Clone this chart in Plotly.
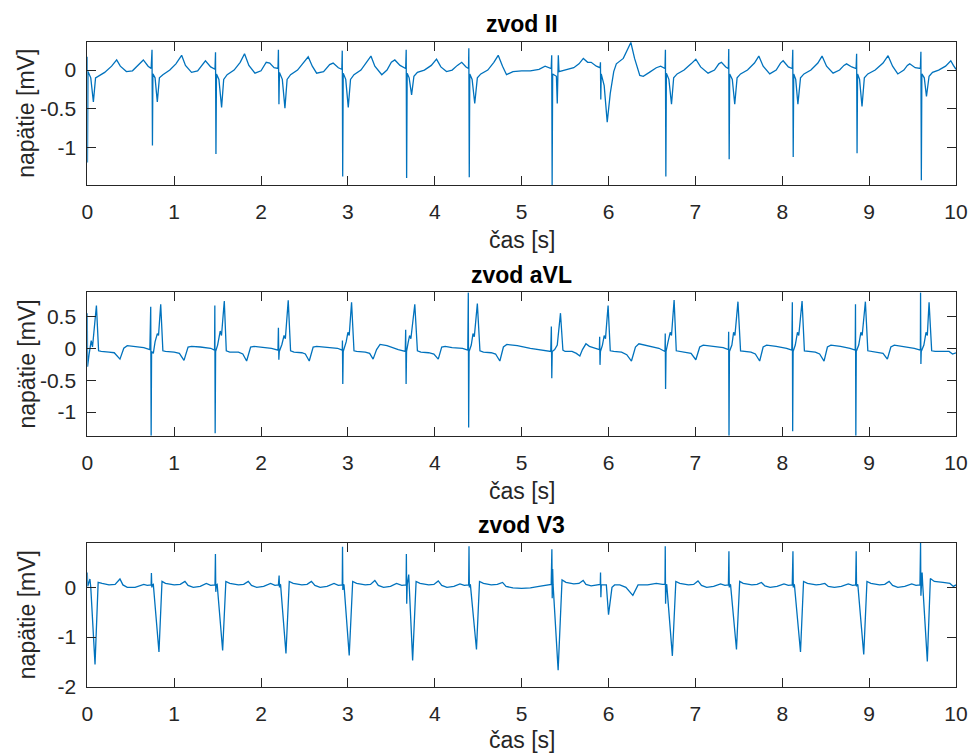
import plotly.graph_objects as go

# ---------------- data ----------------
# lead II
time_ii = [
    0.0, 0.002, 0.008, 0.04, 0.07, 0.095, 0.13, 0.2, 0.28, 0.338, 0.38, 0.45, 0.52, 0.6, 0.645, 0.7, 0.735,
    0.745, 0.75, 0.755, 0.78, 0.806, 0.83, 0.87, 0.95, 1.02, 1.086, 1.13, 1.2, 1.27, 1.33, 1.36, 1.42, 1.47,
    1.476, 1.481, 1.487, 1.515, 1.546, 1.57, 1.61, 1.69, 1.76, 1.81, 1.86, 1.93, 2.0, 2.06, 2.1, 2.15, 2.195,
    2.2, 2.206, 2.212, 2.245, 2.275, 2.3, 2.34, 2.42, 2.49, 2.543, 2.59, 2.64, 2.72, 2.79, 2.83, 2.89, 2.93,
    2.935, 2.94, 2.946, 2.975, 3.004, 3.03, 3.07, 3.15, 3.22, 3.265, 3.31, 3.39, 3.45, 3.5, 3.54, 3.6, 3.665,
    3.671, 3.676, 3.682, 3.705, 3.733, 3.76, 3.8, 3.88, 3.96, 4.02, 4.07, 4.135, 4.2, 4.26, 4.31, 4.36, 4.388,
    4.392, 4.397, 4.403, 4.43, 4.46, 4.49, 4.53, 4.61, 4.68, 4.73, 4.78, 4.826, 4.9, 5.0, 5.1, 5.2, 5.27, 5.34,
    5.346, 5.351, 5.357, 5.4, 5.41, 5.416, 5.422, 5.43, 5.5, 5.6, 5.66, 5.71, 5.76, 5.8, 5.86, 5.903,
    5.907, 5.911, 5.916, 5.95, 5.985, 6.02, 6.06, 6.09, 6.17, 6.257, 6.3, 6.36, 6.4, 6.47, 6.55, 6.6, 6.65,
    6.655, 6.66, 6.666, 6.695, 6.725, 6.75, 6.79, 6.87, 6.95, 7.005, 7.06, 7.146, 7.22, 7.27, 7.3, 7.35, 7.38,
    7.384, 7.389, 7.395, 7.425, 7.453, 7.48, 7.52, 7.6, 7.68, 7.73, 7.78, 7.856, 7.93, 7.98, 8.01, 8.07, 8.115,
    8.121, 8.126, 8.132, 8.155, 8.18, 8.21, 8.25, 8.33, 8.41, 8.458, 8.51, 8.585, 8.66, 8.71, 8.74, 8.8, 8.85,
    8.856, 8.861, 8.867, 8.89, 8.918, 8.945, 8.985, 9.07, 9.16, 9.218, 9.27, 9.33, 9.4, 9.44, 9.467, 9.53, 9.59,
    9.596, 9.601, 9.607, 9.635, 9.66, 9.69, 9.73, 9.8, 9.88, 9.94, 9.97, 10.0,
]
volt_ii = [
    0.17, -1.19, -0.02, -0.1, -0.41, -0.1, -0.08, -0.03, 0.05, 0.13, 0.05, -0.02, -0.01, 0.08, 0.13, 0.05, 0.02,
    0.26, -0.97, -0.05, -0.1, -0.41, -0.1, -0.06, 0.0, 0.08, 0.19, 0.06, -0.03, -0.01, 0.08, 0.12, 0.04, 0.01,
    0.23, -1.08, -0.05, -0.12, -0.48, -0.12, -0.06, 0.0, 0.1, 0.21, 0.06, -0.04, -0.01, 0.1, 0.09, 0.03, 0.02,
    0.26, -0.44, -0.03, -0.12, -0.49, -0.12, -0.06, 0.0, 0.09, 0.17, 0.05, -0.04, -0.02, 0.07, 0.09, 0.03, 0.01,
    0.25, -1.37, -0.04, -0.12, -0.48, -0.12, -0.06, 0.0, 0.1, 0.18, 0.05, -0.06, 0.0, 0.1, 0.13, 0.06, 0.02,
    0.26, -1.39, -0.04, -0.1, -0.32, -0.08, -0.03, 0.0, 0.06, 0.14, 0.04, -0.02, 0.0, 0.06, 0.1, 0.04, 0.02,
    0.28, -1.38, -0.05, -0.12, -0.43, -0.1, -0.05, 0.0, 0.1, 0.19, 0.05, -0.06, -0.02, -0.01, -0.01, 0.01, 0.05, 0.02,
    0.19, -1.48, -0.05, -0.08, -0.43, -0.05, 0.19, -0.02, 0.0, 0.03, 0.08, 0.15, 0.1, 0.1, 0.05, 0.03,
    0.1, -0.38, -0.05, -0.2, -0.67, -0.3, -0.02, 0.08, 0.15, 0.355, 0.15, -0.07, -0.08, -0.03, 0.03, 0.05, 0.02,
    0.26, -1.37, -0.04, -0.12, -0.44, -0.1, -0.05, 0.0, 0.08, 0.14, 0.04, -0.04, 0.0, 0.08, 0.1, 0.04, 0.02,
    0.27, -1.15, -0.05, -0.12, -0.44, -0.1, -0.05, 0.0, 0.09, 0.18, 0.05, -0.05, 0.0, 0.09, 0.12, 0.04, 0.02,
    0.26, -1.12, -0.05, -0.12, -0.44, -0.1, -0.05, 0.0, 0.09, 0.18, 0.05, -0.04, 0.0, 0.06, 0.08, 0.04, 0.02,
    0.21, -1.07, -0.05, -0.12, -0.47, -0.1, -0.05, 0.0, 0.09, 0.185, 0.05, -0.05, 0.0, 0.06, 0.08, 0.03, 0.02,
    0.235, -1.42, -0.05, -0.1, -0.34, -0.08, -0.03, 0.0, 0.05, 0.12, 0.06, 0.01,
]

# lead aVL
time_avl = [
    0.0, 0.003, 0.02, 0.045, 0.06, 0.105, 0.13, 0.16, 0.25, 0.31, 0.376, 0.42, 0.46, 0.55, 0.65, 0.72,
    0.73, 0.735, 0.74, 0.76, 0.78, 0.806, 0.82, 0.845, 0.87, 0.9, 1.0, 1.06, 1.113, 1.16, 1.2, 1.3, 1.42, 1.465,
    1.468, 1.472, 1.477, 1.5, 1.53, 1.545, 1.577, 1.6, 1.64, 1.74, 1.79, 1.834, 1.88, 1.92, 2.0, 2.12, 2.195,
    2.2, 2.205, 2.21, 2.24, 2.265, 2.28, 2.313, 2.34, 2.38, 2.47, 2.51, 2.555, 2.6, 2.64, 2.75, 2.88, 2.935,
    2.937, 2.941, 2.946, 2.98, 3.0, 3.015, 3.042, 3.07, 3.1, 3.2, 3.25, 3.29, 3.33, 3.37, 3.45, 3.58, 3.66,
    3.665, 3.67, 3.675, 3.695, 3.71, 3.725, 3.77, 3.8, 3.84, 3.93, 3.99, 4.04, 4.08, 4.12, 4.2, 4.32, 4.38,
    4.386, 4.39, 4.395, 4.42, 4.44, 4.455, 4.49, 4.52, 4.56, 4.65, 4.7, 4.749, 4.79, 4.83, 4.95, 5.1, 5.25, 5.335,
    5.342, 5.347, 5.352, 5.38, 5.41, 5.447, 5.475, 5.5, 5.58, 5.63, 5.67, 5.7, 5.74, 5.78, 5.85, 5.895,
    5.898, 5.902, 5.907, 5.93, 5.95, 5.965, 5.995, 6.02, 6.06, 6.15, 6.21, 6.264, 6.31, 6.35, 6.45, 6.58, 6.65,
    6.653, 6.657, 6.662, 6.685, 6.71, 6.725, 6.755, 6.78, 6.82, 6.9, 6.95, 7.005, 7.05, 7.09, 7.2, 7.32, 7.38,
    7.383, 7.387, 7.392, 7.42, 7.44, 7.455, 7.49, 7.52, 7.56, 7.64, 7.69, 7.74, 7.78, 7.82, 7.93, 8.05, 8.11,
    8.116, 8.12, 8.125, 8.15, 8.175, 8.19, 8.228, 8.255, 8.3, 8.38, 8.43, 8.481, 8.52, 8.56, 8.67, 8.78, 8.84,
    8.843, 8.847, 8.852, 8.88, 8.905, 8.92, 8.957, 8.985, 9.03, 9.11, 9.16, 9.21, 9.25, 9.29, 9.4, 9.52, 9.59,
    9.592, 9.596, 9.6, 9.63, 9.655, 9.67, 9.69, 9.72, 9.76, 9.85, 9.92, 9.96, 10.0,
]
volt_avl = [
    0.55, -0.29, -0.1, 0.12, 0.02, 0.67, -0.04, -0.05, -0.06, -0.07, -0.17, 0.0, 0.04, 0.03, 0.01, -0.02,
    0.65, -1.37, -0.05, -0.08, 0.1, 0.23, 0.2, 0.69, -0.04, -0.05, -0.06, -0.08, -0.19, 0.02, 0.03, 0.02, 0.0, -0.03,
    0.67, -1.33, -0.05, 0.05, 0.27, 0.2, 0.74, -0.04, -0.06, -0.06, -0.09, -0.2, 0.02, 0.03, 0.02, 0.0, -0.03,
    0.32, -0.18, -0.05, 0.06, 0.2, 0.15, 0.75, -0.04, -0.06, -0.07, -0.09, -0.2, 0.02, 0.03, 0.02, 0.0, -0.03,
    0.12, -0.56, -0.05, 0.1, 0.25, 0.2, 0.72, -0.04, -0.05, -0.06, -0.08, -0.17, -0.02, 0.06, 0.04, -0.02, -0.05,
    0.29, -0.56, -0.05, 0.1, 0.2, 0.15, 0.69, -0.04, -0.06, -0.07, -0.09, -0.17, 0.02, 0.03, 0.01, 0.0, -0.03,
    0.875, -1.24, -0.05, 0.05, 0.23, 0.18, 0.7, -0.04, -0.06, -0.07, -0.09, -0.2, 0.02, 0.06, 0.04, 0.0, -0.03, -0.05,
    0.34, -0.47, -0.05, -0.02, 0.05, 0.55, -0.03, -0.05, -0.05, -0.08, -0.12, -0.02, 0.07, 0.03, 0.0, -0.02,
    0.18, -0.26, -0.05, 0.05, 0.2, 0.15, 0.67, -0.04, -0.05, -0.06, -0.1, -0.2, 0.02, 0.07, 0.04, 0.0, -0.05,
    0.23, -0.64, -0.05, 0.1, 0.25, 0.2, 0.755, -0.04, -0.05, -0.06, -0.08, -0.18, 0.02, 0.05, 0.03, 0.01, -0.02,
    0.26, -1.37, -0.05, 0.05, 0.25, 0.2, 0.73, -0.04, -0.05, -0.06, -0.09, -0.2, 0.02, 0.05, 0.03, 0.0, -0.03,
    0.72, -1.3, -0.05, 0.05, 0.25, 0.2, 0.74, -0.04, -0.05, -0.06, -0.09, -0.2, 0.02, 0.05, 0.03, 0.0, -0.03,
    0.69, -1.37, -0.05, 0.05, 0.25, 0.2, 0.73, -0.04, -0.05, -0.06, -0.08, -0.17, 0.02, 0.05, 0.03, 0.0, -0.03,
    0.875, -0.245, -0.05, 0.05, 0.25, 0.2, 0.72, -0.04, -0.05, -0.05, -0.05, -0.09, -0.07,
]

# lead V3
time_v3 = [
    0.0, 0.005, 0.03, 0.04, 0.089, 0.125, 0.17, 0.25, 0.32, 0.376, 0.41, 0.46, 0.55, 0.61, 0.65, 0.69, 0.735,
    0.738, 0.743, 0.75, 0.76, 0.825, 0.86, 0.9, 1.0, 1.07, 1.124, 1.16, 1.22, 1.3, 1.37, 1.42, 1.47,
    1.475, 1.479, 1.485, 1.495, 1.558, 1.595, 1.64, 1.74, 1.8, 1.853, 1.89, 1.95, 2.03, 2.11, 2.16, 2.2,
    2.208, 2.212, 2.218, 2.225, 2.287, 2.325, 2.37, 2.47, 2.53, 2.58, 2.62, 2.68, 2.76, 2.84, 2.89, 2.935,
    2.938, 2.942, 2.948, 2.955, 3.015, 3.055, 3.1, 3.2, 3.26, 3.31, 3.35, 3.41, 3.49, 3.56, 3.62, 3.67,
    3.673, 3.677, 3.683, 3.7, 3.705, 3.745, 3.785, 3.83, 3.93, 3.99, 4.04, 4.08, 4.14, 4.22, 4.29, 4.34, 4.39,
    4.394, 4.398, 4.404, 4.41, 4.48, 4.515, 4.56, 4.65, 4.72, 4.78, 4.82, 4.9, 5.0, 5.1, 5.2, 5.28, 5.34,
    5.348, 5.352, 5.357, 5.362, 5.42, 5.465, 5.51, 5.6, 5.66, 5.708, 5.74, 5.8, 5.87, 5.905,
    5.908, 5.912, 5.917, 5.975, 6.0, 6.04, 6.07, 6.13, 6.2, 6.28, 6.34, 6.45, 6.55, 6.62, 6.65,
    6.653, 6.657, 6.663, 6.67, 6.735, 6.775, 6.82, 6.92, 6.98, 7.03, 7.07, 7.13, 7.21, 7.29, 7.34, 7.38,
    7.386, 7.39, 7.396, 7.405, 7.473, 7.51, 7.55, 7.65, 7.71, 7.76, 7.8, 7.86, 7.94, 8.02, 8.07, 8.115,
    8.123, 8.127, 8.133, 8.14, 8.21, 8.245, 8.29, 8.39, 8.44, 8.49, 8.53, 8.6, 8.68, 8.76, 8.81, 8.845,
    8.851, 8.855, 8.861, 8.87, 8.938, 8.975, 9.02, 9.12, 9.18, 9.23, 9.27, 9.33, 9.41, 9.49, 9.54, 9.585,
    9.592, 9.596, 9.602, 9.61, 9.617, 9.67, 9.705, 9.75, 9.85, 9.93, 9.97, 10.0,
]
volt_v3 = [
    0.3, 0.02, 0.17, 0.0, -1.55, 0.1, 0.08, 0.05, 0.06, 0.17, 0.05, 0.0, 0.0, 0.03, 0.06, 0.04, 0.05,
    0.29, 0.0, 0.05, 0.06, -1.3, 0.12, 0.08, 0.05, 0.06, 0.12, 0.04, 0.0, 0.02, 0.08, 0.04, 0.05,
    0.67, -0.09, 0.05, 0.06, -1.27, 0.12, 0.08, 0.05, 0.06, 0.12, 0.04, 0.0, 0.02, 0.08, 0.04, 0.05,
    0.24, 0.0, 0.06, 0.05, -1.33, 0.12, 0.08, 0.05, 0.06, 0.12, 0.04, 0.0, 0.02, 0.08, 0.04, 0.05,
    0.82, -0.05, 0.06, 0.05, -1.37, 0.12, 0.08, 0.05, 0.06, 0.14, 0.04, 0.0, 0.02, 0.08, 0.04, 0.05,
    0.67, -0.33, 0.05, 0.26, 0.05, -1.47, 0.12, 0.08, 0.05, 0.06, 0.13, 0.04, 0.0, 0.02, 0.07, 0.04, 0.05,
    0.83, 0.0, 0.06, 0.05, -1.25, 0.12, 0.08, 0.05, 0.06, 0.1, 0.02, -0.01, -0.02, -0.01, 0.02, 0.05, 0.06,
    0.77, -0.22, 0.37, 0.05, -1.67, 0.15, 0.1, 0.07, 0.08, 0.14, 0.06, 0.03, 0.05, 0.06,
    0.3, -0.2, 0.05, 0.05, -0.55, 0.0, 0.05, 0.05, 0.0, -0.16, 0.05, 0.05, 0.08, 0.06, 0.06,
    0.83, -0.33, 0.05, 0.06, -1.38, 0.12, 0.08, 0.05, 0.06, 0.13, 0.04, 0.0, 0.02, 0.07, 0.04, 0.05,
    0.73, 0.0, 0.06, 0.05, -1.25, 0.12, 0.08, 0.05, 0.06, 0.1, 0.03, 0.0, 0.02, 0.07, 0.04, 0.05,
    0.73, 0.0, 0.06, 0.05, -1.3, 0.12, 0.08, 0.05, 0.06, 0.08, 0.02, 0.0, 0.02, 0.07, 0.04, 0.05,
    0.73, 0.02, 0.06, 0.05, -1.35, 0.12, 0.08, 0.05, 0.06, 0.12, 0.04, 0.0, 0.02, 0.07, 0.04, 0.05,
    0.9, -0.17, 0.05, 0.3, 0.05, -1.49, 0.18, 0.12, 0.1, 0.08, 0.02, 0.05,
]

lead_titles = ["zvod II", "zvod aVL", "zvod V3"]
x_label = "čas [s]"
y_label = "napätie [mV]"
x_ticks = [0, 1, 2, 3, 4, 5, 6, 7, 8, 9, 10]
y_ticks = [[-1, -0.5, 0], [-1, -0.5, 0, 0.5], [-2, -1, 0]]
y_tick_text = [["-1", "-0.5", "0"], ["-1", "-0.5", "0", "0.5"], ["-2", "-1", "0"]]
y_ranges = [[-1.48, 0.365], [-1.37, 0.877], [-2.0, 0.9]]

# ---------------- figure ----------------
W, H = 968, 753
FONT = "Liberation Sans, Arial, Helvetica, sans-serif"
AX = "#262626"
LINE = "#0072BD"

# plot boxes in pixels (top, bottom)
boxes = [(41.7, 185.0), (292.3, 435.7), (542.7, 686.7)]
xlabel_gap = [55.5, 55.5, 53.0]
x0px, x1px = 87.3, 956.0

fig = go.Figure()
series = [(time_ii, volt_ii), (time_avl, volt_avl), (time_v3, volt_v3)]
for i, (t, v) in enumerate(series):
    sfx = "" if i == 0 else str(i + 1)
    fig.add_trace(go.Scatter(x=t, y=v, mode="lines",
                             line=dict(color=LINE, width=1.3),
                             xaxis="x" + sfx, yaxis="y" + sfx,
                             showlegend=False, hoverinfo="skip"))

layout = dict(width=W, height=H, margin=dict(l=0, r=0, t=0, b=0, autoexpand=False),
              paper_bgcolor="white", plot_bgcolor="white",
              font=dict(family=FONT, color=AX), showlegend=False)
annotations = []
for i, (top, bot) in enumerate(boxes):
    sfx = "" if i == 0 else str(i + 1)
    ydom = [1 - bot / H, 1 - top / H]
    layout["xaxis" + sfx] = dict(
        domain=[x0px / W, x1px / W], range=[0, 10], anchor="y" + sfx,
        tickvals=x_ticks, ticks="inside", ticklen=9, tickwidth=1, tickcolor=AX,
        showline=True, linecolor=AX, linewidth=1, mirror="ticks",
        showgrid=False, zeroline=False, tickfont=dict(size=21, color=AX, family=FONT),
        ticklabelstandoff=8, automargin=False,
    )
    layout["yaxis" + sfx] = dict(
        domain=ydom, range=y_ranges[i], anchor="x" + sfx,
        tickvals=y_ticks[i], ticktext=y_tick_text[i],
        ticks="inside", ticklen=9, tickwidth=1, tickcolor=AX,
        showline=True, linecolor=AX, linewidth=1, mirror="ticks",
        showgrid=False, zeroline=False, tickfont=dict(size=21, color=AX, family=FONT),
        ticklabelstandoff=6, automargin=False,
    )
    xc = (x0px + x1px) / 2 / W
    annotations.append(dict(text="<b>" + lead_titles[i] + "</b>", x=xc, y=1 - (top - 17.7) / H,
                            xref="paper", yref="paper", showarrow=False,
                            xanchor="center", yanchor="middle",
                            font=dict(size=23, color="black", family=FONT)))
    annotations.append(dict(text=x_label, x=xc, y=1 - (bot + xlabel_gap[i]) / H,
                            xref="paper", yref="paper", showarrow=False,
                            xanchor="center", yanchor="middle",
                            font=dict(size=23, color=AX, family=FONT)))
    annotations.append(dict(text=y_label, x=26.5 / W, y=1 - (top + bot) / 2 / H,
                            xref="paper", yref="paper", showarrow=False, textangle=-90,
                            xanchor="center", yanchor="middle",
                            font=dict(size=23, color=AX, family=FONT)))
layout["annotations"] = annotations
fig.update_layout(**layout)

fig.write_html("out.html", config={"displayModeBar": False},
               post_script="document.body.style.margin='0';document.body.style.overflow='hidden';")
